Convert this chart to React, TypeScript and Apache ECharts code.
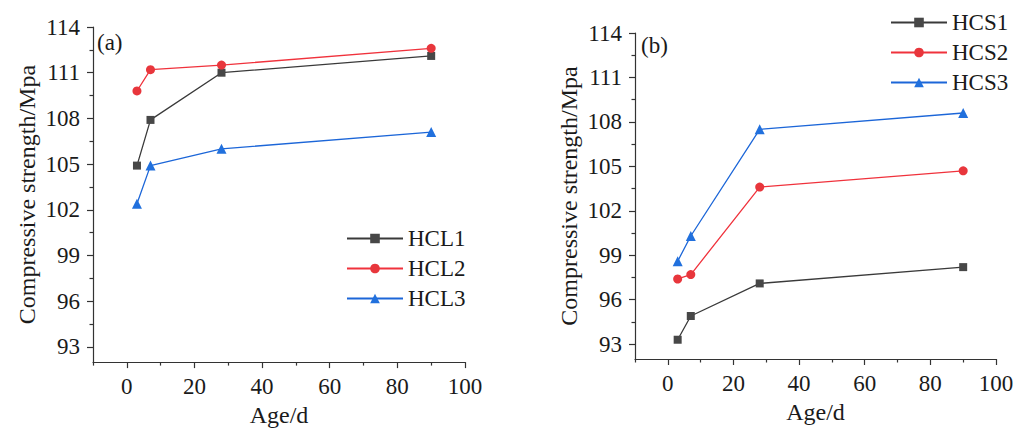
import React, { useEffect, useRef } from "react";
import * as echarts from "echarts";

// Curing age (days)
const ages = [3, 7, 28, 90];

// (a) HCL mixes, compressive strength in MPa
const hcl1 = [104.9, 107.9, 111.0, 112.1];
const hcl2 = [109.8, 111.2, 111.5, 112.6];
const hcl3 = [102.4, 104.9, 106.0, 107.1];

// (b) HCS mixes, compressive strength in MPa
const hcs1 = [93.3, 94.9, 97.1, 98.2];
const hcs2 = [97.4, 97.7, 103.6, 104.7];
const hcs3 = [98.6, 100.3, 107.5, 108.6];

const yMajor = [93, 96, 99, 102, 105, 108, 111, 114];
const yMinor = [94.5, 97.5, 100.5, 103.5, 106.5, 109.5, 112.5];
const xMajor = [0, 20, 40, 60, 80, 100];
const xMinor = [-10, 10, 30, 50, 70, 90];

const FONT = "Liberation Serif";
const TEXT = "#1a1a1a";
const AXIS = "#333333";

const BLACK = { line: "#3a3a3a", mark: "#474747" };
const RED = { line: "#f0323c", mark: "#e8363c" };
const BLUE = { line: "#1c66d8", mark: "#2170dd" };

function xAxes(gridIndex: number) {
  const common = {
    type: "value" as const,
    gridIndex,
    min: -10,
    max: 100,
    position: "bottom" as const,
    splitLine: { show: false },
  };
  return [
    {
      ...common,
      name: "Age/d",
      nameLocation: "middle" as const,
      nameGap: 29,
      nameTextStyle: { fontFamily: FONT, fontSize: 24, color: TEXT },
      axisLine: { show: true, onZero: false, lineStyle: { color: AXIS, width: 1.2 } },
      axisTick: { show: true, inside: false, length: 6, customValues: xMajor, lineStyle: { color: AXIS, width: 1.2 } },
      axisLabel: { show: true, customValues: xMajor, margin: 13, fontFamily: FONT, fontSize: 23, color: TEXT },
    },
    {
      ...common,
      axisLine: { show: false, onZero: false },
      axisTick: { show: true, inside: false, length: 3.5, customValues: xMinor, lineStyle: { color: AXIS, width: 1.2 } },
      axisLabel: { show: false },
    },
  ];
}

function yAxes(gridIndex: number) {
  const common = {
    type: "value" as const,
    gridIndex,
    min: 92,
    max: 114,
    position: "left" as const,
    splitLine: { show: false },
  };
  return [
    {
      ...common,
      name: "Compressive strength/Mpa",
      nameLocation: "middle" as const,
      nameGap: 54,
      nameTextStyle: { fontFamily: FONT, fontSize: 24, color: TEXT },
      axisLine: { show: true, onZero: false, lineStyle: { color: AXIS, width: 1.2 } },
      axisTick: { show: true, inside: false, length: 6, customValues: yMajor, lineStyle: { color: AXIS, width: 1.2 } },
      axisLabel: { show: true, customValues: yMajor, margin: 13, fontFamily: FONT, fontSize: 23, color: TEXT },
    },
    {
      ...common,
      axisLine: { show: false, onZero: false },
      axisTick: { show: true, inside: false, length: 3.5, customValues: yMinor, lineStyle: { color: AXIS, width: 1.2 } },
      axisLabel: { show: false },
    },
  ];
}

function lineSeries(
  name: string,
  values: number[],
  axisIndex: number,
  color: { line: string; mark: string },
  symbol: string,
  symbolSize: number
) {
  return {
    type: "line" as const,
    name,
    xAxisIndex: axisIndex,
    yAxisIndex: axisIndex,
    data: ages.map((a, i) => [a, values[i]]),
    symbol,
    symbolSize,
    showSymbol: true,
    lineStyle: { color: color.line, width: 1.3 },
    itemStyle: { color: color.mark },
    emphasis: { disabled: true },
  };
}

export default function App() {
  const ref = useRef<HTMLDivElement>(null);

  useEffect(() => {
    document.body.style.margin = "0";
    if (!ref.current) return;
    const chart = echarts.init(ref.current, undefined, { renderer: "svg" });

    const legendCommon = {
      orient: "vertical" as const,
      itemWidth: 56,
      itemHeight: 12,
      itemGap: 7,
      textStyle: { fontFamily: FONT, fontSize: 23, color: TEXT, lineHeight: 23 },
      selectedMode: false,
    };

    chart.setOption({
      animation: false,
      backgroundColor: "#ffffff",
      grid: [
        { left: 93, top: 27, width: 372, height: 337 },
        { left: 635, top: 33, width: 361, height: 326 },
      ],
      xAxis: [...xAxes(0), ...xAxes(1)],
      yAxis: [...yAxes(0), ...yAxes(1)],
      legend: [
        { ...legendCommon, left: 341, top: 222, data: ["HCL1", "HCL2", "HCL3"] },
        { ...legendCommon, left: 885, top: 6, data: ["HCS1", "HCS2", "HCS3"] },
      ],
      graphic: [
        {
          type: "text",
          left: 97,
          top: 31,
          style: { text: "(a)", fontFamily: FONT, fontSize: 23, fill: TEXT },
        },
        {
          type: "text",
          left: 641,
          top: 34,
          style: { text: "(b)", fontFamily: FONT, fontSize: 23, fill: TEXT },
        },
      ],
      series: [
        lineSeries("HCL1", hcl1, 0, BLACK, "rect", 8),
        lineSeries("HCL2", hcl2, 0, RED, "circle", 9),
        lineSeries("HCL3", hcl3, 0, BLUE, "triangle", 10),
        lineSeries("HCS1", hcs1, 2, BLACK, "rect", 8),
        lineSeries("HCS2", hcs2, 2, RED, "circle", 9),
        lineSeries("HCS3", hcs3, 2, BLUE, "triangle", 10),
      ],
    });

    return () => chart.dispose();
  }, []);

  return <div ref={ref} style={{ width: 1029, height: 432 }} />;
}
